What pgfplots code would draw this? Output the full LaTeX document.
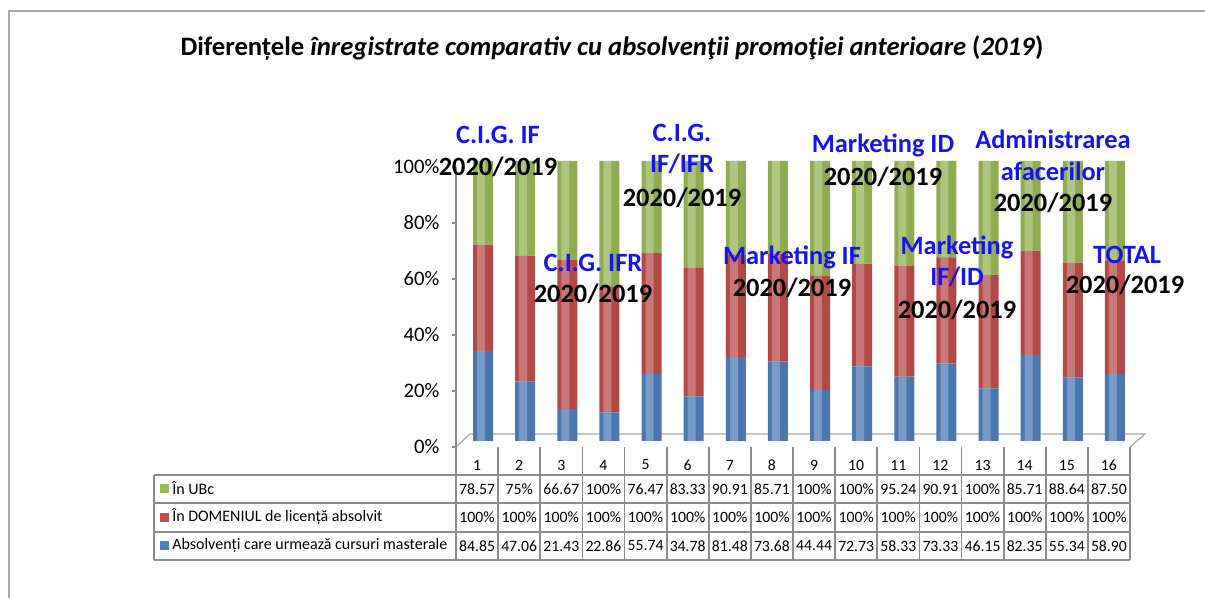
\documentclass[border=0pt]{standalone}
\usepackage{pgfplots}
\pgfplotsset{compat=1.18}
\usepackage{fontspec}
\setmainfont{Carlito}
\definecolor{cblue}{HTML}{4F81BD}
\definecolor{cred}{HTML}{C0504D}
\definecolor{cgreen}{HTML}{9BBB59}
\definecolor{lblue}{HTML}{1414F0}
\definecolor{lgray}{HTML}{8C8C8C}
\definecolor{fgray}{HTML}{A6A6A6}
\pgfplotstableread{
x  b       r       g
1  32.211  37.962  29.827
2  21.192  45.033  33.775
3  11.393  53.163  35.444
4  10.257  44.871  44.871
5  24.004  43.065  32.931
6  15.946  45.848  38.206
7  29.913  36.712  33.375
8  28.405  38.552  33.043
9  18.180  40.910  40.910
10 26.667  36.666  36.666
11 23.004  39.437  37.560
12 27.751  37.844  34.404
13 18.749  40.626  40.626
14 30.721  37.305  31.974
15 22.682  40.987  36.331
16 23.904  40.584  35.511
}\pct
\begin{document}
\begin{tikzpicture}
\begin{scope}[x=0.75pt,y=-0.75pt,yshift=448.5pt]
\useasboundingbox (0,0) rectangle (1205,598);
\draw[fgray, line width=0.9pt] (9,598) -- (9,11) -- (1205,11);
\node[font=\fontsize{20}{24}\selectfont\bfseries] at (612,48) {Diferențele \textit{înregistrate comparativ cu absolvenţii promoţiei anterioare} (\textit{2019})};
\draw[fgray, line width=0.9pt] (456,447) -- (470,434) -- (1145,434) -- (1130,447);
\end{scope}
\begin{axis}[
  at={(342pt,113.25pt)}, anchor=south west,
  scale only axis, width=505.5pt, height=210pt,
  xmin=0.5, xmax=16.5, ymin=0, ymax=100,
  ybar stacked, bar width=15pt, bar shift=4.5pt,
  clip=false,
  axis x line=none,
  axis y line*=left,
  axis line style={-, draw=lgray, line width=0.9pt},
  ytick={0,20,40,60,80,100},
  yticklabel={\pgfmathprintnumber{\tick}\%},
  yticklabel style={font=\fontsize{15.5}{18}\selectfont, xshift=-6pt},
  /pgf/number format/assume math mode=true,
  tick align=outside, major tick length=3pt,
  tick style={lgray, line width=0.9pt},
  xtick=\empty,
  every axis plot/.append style={draw=none, yshift=4.5pt},
]
\addplot[fill=cblue!92!black] table[x=x,y=b] {\pct};
\addplot[fill=cred!92!black] table[x=x,y=r] {\pct};
\addplot[fill=cgreen!92!black] table[x=x,y=g] {\pct};
\end{axis}
% highlight overlay (cylinder look)
\begin{axis}[
  at={(342pt,113.25pt)}, anchor=south west,
  scale only axis, width=505.5pt, height=210pt,
  xmin=0.5, xmax=16.5, ymin=0, ymax=100,
  ybar stacked, bar width=6pt, bar shift=3pt,
  clip=false, hide axis,
  every axis plot/.append style={draw=none, yshift=4.5pt},
]
\addplot[fill=cblue!55!white, opacity=0.55] table[x=x,y=b] {\pct};
\addplot[fill=cred!55!white, opacity=0.55] table[x=x,y=r] {\pct};
\addplot[fill=cgreen!55!white, opacity=0.55] table[x=x,y=g] {\pct};
\end{axis}
\begin{scope}[x=0.75pt,y=-0.75pt,yshift=448.5pt]
% table
\draw[lgray, line width=1.3pt] (154,475) -- (1130,475);
\draw[lgray, line width=1.3pt] (154,503) -- (1130,503);
\draw[lgray, line width=1.3pt] (154,532) -- (1130,532);
\draw[lgray, line width=1.3pt] (154,560) -- (1130,560);
\draw[lgray, line width=1.3pt] (154,475) -- (154,560);
\foreach \k in {0,...,16} {
  \pgfmathsetmacro\xx{456+\k*42.125}
  \draw[lgray, line width=1.3pt] (\xx,447) -- (\xx,560);
}
\foreach \k in {1,...,16} {
  \pgfmathsetmacro\xx{456+(\k-0.5)*42.125}
  \node[font=\fontsize{11.8}{13}\selectfont] at (\xx,465) {\k};
}
\foreach \v [count=\k] in {78.57,75\%,66.67,100\%,76.47,83.33,90.91,85.71,100\%,100\%,95.24,90.91,100\%,85.71,88.64,87.50} {
  \pgfmathsetmacro\xx{456+(\k-0.5)*42.125}
  \node[font=\fontsize{11.8}{13}\selectfont] at (\xx,489) {\v};
}
\foreach \k in {1,...,16} {
  \pgfmathsetmacro\xx{456+(\k-0.5)*42.125}
  \node[font=\fontsize{11.8}{13}\selectfont] at (\xx,517.5) {100\%};
}
\foreach \v [count=\k] in {84.85,47.06,21.43,22.86,55.74,34.78,81.48,73.68,44.44,72.73,58.33,73.33,46.15,82.35,55.34,58.90} {
  \pgfmathsetmacro\xx{456+(\k-0.5)*42.125}
  \node[font=\fontsize{11.8}{13}\selectfont] at (\xx,546) {\v};
}
\fill[cgreen] (160,484.5) rectangle (169,493.5);
\fill[cred] (160,513) rectangle (169,522);
\fill[cblue] (160,541.5) rectangle (169,550.5);
\node[font=\fontsize{12}{13}\selectfont, anchor=west, inner sep=0pt] at (172,488) {În UBc};
\node[font=\fontsize{12}{13}\selectfont, anchor=west, inner sep=0pt] at (172,516.5) {În DOMENIUL de licență absolvit};
\node[font=\fontsize{12}{13}\selectfont, anchor=west, inner sep=0pt] at (172,545) {Absolvenți care urmează cursuri masterale};
% annotations
\tikzset{bl/.style={font=\fontsize{19.8}{22}\selectfont\bfseries, text=lblue, inner sep=0pt},
         bk/.style={font=\fontsize{19.8}{22}\selectfont\bfseries, text=black, inner sep=0pt}}
\node[bl] at (498,135) {C.I.G. IF};
\node[bk] at (498,167) {2020/2019};
\node[bl] at (682,133) {C.I.G.};
\node[bl] at (682,164) {IF/IFR};
\node[bk] at (682,198) {2020/2019};
\node[bl] at (593,263) {C.I.G. IFR};
\node[bk] at (593,294) {2020/2019};
\node[bl] at (792,257) {Marketing IF};
\node[bk] at (792,288) {2020/2019};
\node[bl] at (883,145) {Marketing ID};
\node[bk] at (883,177) {2020/2019};
\node[bl] at (957,247) {Marketing};
\node[bl] at (957,277) {IF/ID};
\node[bk] at (957,310) {2020/2019};
\node[bl] at (1053,139) {Administrarea};
\node[bl] at (1053,171) {afacerilor};
\node[bk] at (1053,203) {2020/2019};
\node[bl] at (1127,255) {TOTAL};
\node[bk] at (1125,285) {2020/2019};
\end{scope}
\end{tikzpicture}
\end{document}
